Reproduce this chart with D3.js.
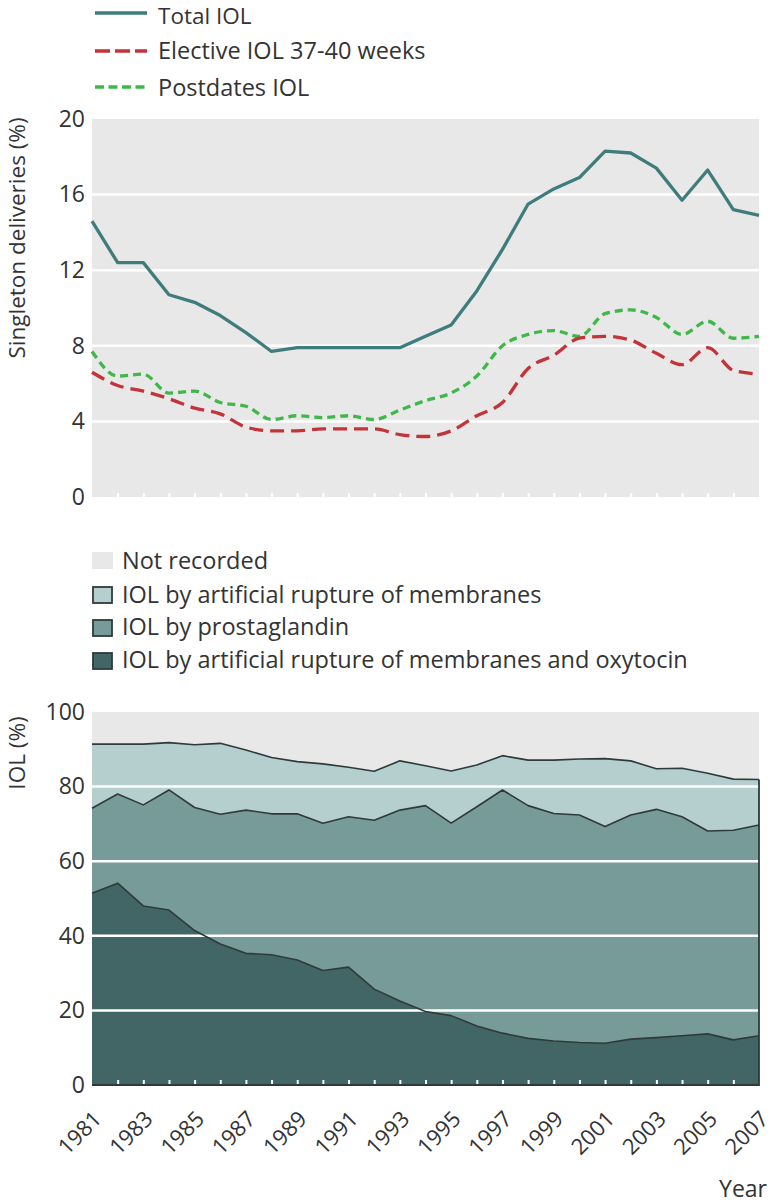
<!DOCTYPE html>
<html><head><meta charset="utf-8">
<script src="https://cdn.jsdelivr.net/npm/d3@7"></script>
<style>
body{margin:0;background:#fff}
text{font-family:"Open Sans",sans-serif;fill:#333}
</style>
</head><body>
<svg id="c" width="780" height="1204"></svg>
<script>
// ---------- data ----------
const years = [1981,1982,1983,1984,1985,1986,1987,1988,1989,1990,1991,1992,1993,1994,1995,1996,1997,1998,1999,2000,2001,2002,2003,2004,2005,2006,2007];
const yearTickLabels = [1981,1983,1985,1987,1989,1991,1993,1995,1997,1999,2001,2003,2005,2007];

const totalIOL     = [14.6,12.4,12.4,10.7,10.3,9.6,8.7,7.7,7.9,7.9,7.9,7.9,7.9,8.5,9.1,10.9,13.1,15.5,16.3,16.9,18.3,18.2,17.4,15.7,17.3,15.2,14.9];
const electiveIOL  = [6.6,5.9,5.6,5.2,4.7,4.4,3.7,3.5,3.5,3.6,3.6,3.6,3.3,3.2,3.5,4.3,5.0,6.8,7.5,8.4,8.5,8.3,7.6,7.0,7.9,6.7,6.5];
const postdatesIOL = [7.7,6.4,6.5,5.5,5.6,5.0,4.8,4.1,4.3,4.2,4.3,4.1,4.6,5.1,5.5,6.4,8.0,8.6,8.8,8.5,9.7,9.9,9.5,8.6,9.3,8.4,8.5];
const topTicks = [0,4,8,12,16,20];

const armOxytocin   = [51.4,54.1,48.0,46.9,41.4,37.8,35.3,34.9,33.5,30.7,31.6,25.7,22.5,19.7,18.6,15.8,13.9,12.5,11.8,11.4,11.2,12.3,12.7,13.2,13.7,12.1,13.2];
const prostaglandin = [22.8,23.9,27.1,32.2,33.0,34.8,38.4,37.8,39.2,39.5,40.3,45.3,51.2,55.2,51.6,58.8,65.2,62.4,61.0,61.0,58.1,60.1,61.2,58.7,54.4,56.2,56.5];
const armOnly       = [17.2,13.4,16.3,12.7,16.8,19.0,16.1,15.1,14.0,15.9,13.3,13.1,13.2,10.7,14.0,11.2,9.2,12.2,14.3,15.0,18.2,14.5,10.9,13.0,15.5,13.7,12.2];
const bottomTicks = [0,20,40,60,80,100];

const topLegend = ["Total IOL","Elective IOL 37-40 weeks","Postdates IOL"];
const bottomLegend = ["Not recorded","IOL by artificial rupture of membranes","IOL by prostaglandin","IOL by artificial rupture of membranes and oxytocin"];

// ---------- styles ----------
const C = {
  bg:"#e8e8e8", total:"#3f7c7c", elective:"#c3343a", postdates:"#3fb84a",
  notRec:"#e8e8e8", arm:"#b4cfcd", pg:"#769b99", oxy:"#426665", outline:"#2f3a3a", text:"#333"
};
const FS = 23;

const svg = d3.select("#c");
const L = 92, R = 759;
const x = d3.scaleLinear().domain([1981,2007]).range([L,R]);

// ================= TOP CHART =================
const yT = d3.scaleLinear().domain([0,20]).range([497,119]);
const gTop = svg.append("g");
gTop.append("rect").attr("x",L).attr("y",yT(20)).attr("width",R-L).attr("height",yT(0)-yT(20)).attr("fill",C.bg);
gTop.append("g").selectAll("line").data(topTicks.filter(t=>t>0&&t<20)).join("line")
  .attr("x1",L).attr("x2",R).attr("y1",d=>yT(d)).attr("y2",d=>yT(d))
  .attr("stroke","#fff").attr("stroke-width",2.5);
const tt = gTop.append("g").attr("transform",`translate(0,${yT(0)})`)
  .call(d3.axisBottom(x).tickValues(years.slice(1,-1)).tickSize(-4).tickFormat(""));
tt.select(".domain").remove();
tt.selectAll("line").attr("stroke","#fff").attr("stroke-width",2);

const ya = gTop.append("g").attr("transform",`translate(${L},0)`)
  .call(d3.axisLeft(yT).tickValues(topTicks).tickSize(0).tickPadding(7));
ya.select(".domain").remove();
ya.selectAll("text").attr("font-size",FS).attr("fill",C.text).attr("font-family","Open Sans");

const seriesTop = [
  {vals:totalIOL, color:C.total, dash:null, curve:d3.curveLinear},
  {vals:postdatesIOL, color:C.postdates, dash:"8,5", curve:d3.curveMonotoneX},
  {vals:electiveIOL, color:C.elective, dash:"14,7", curve:d3.curveMonotoneX}
];
seriesTop.forEach(s=>{
  const line = d3.line().x((d,i)=>x(years[i])).y(d=>yT(d)).curve(s.curve);
  gTop.append("path").attr("d",line(s.vals)).attr("fill","none")
    .attr("stroke",s.color).attr("stroke-width",3.3)
    .attr("stroke-dasharray",s.dash).attr("stroke-linejoin","round");
});

gTop.append("text").attr("transform",`translate(25,238) rotate(-90)`)
  .attr("text-anchor","middle").attr("font-size",22.5).text("Singleton deliveries (%)");

const tl = [{c:C.total,d:null,y:13,b:24},{c:C.elective,d:"15,5",y:51,b:59},{c:C.postdates,d:"9,4.5",y:87,b:96}];
tl.forEach((o,i)=>{
  svg.append("line").attr("x1",95).attr("x2",147).attr("y1",o.y).attr("y2",o.y)
    .attr("stroke",o.c).attr("stroke-width",3.3).attr("stroke-dasharray",o.d);
  svg.append("text").attr("x",158).attr("y",o.b).attr("font-size",i===0?22.5:FS+0.5).text(topLegend[i]);
});

// ================= BOTTOM CHART =================
const yB = d3.scaleLinear().domain([0,100]).range([1085,712]);
const gBot = svg.append("g");
gBot.append("rect").attr("x",L).attr("y",yB(100)).attr("width",R-L).attr("height",yB(0)-yB(100)).attr("fill",C.notRec);

const rows = years.map((yr,i)=>({year:yr, oxy:armOxytocin[i], pg:prostaglandin[i], arm:armOnly[i]}));
const stack = d3.stack().keys(["oxy","pg","arm"])(rows);
const fills = {oxy:C.oxy, pg:C.pg, arm:C.arm};
const area = d3.area().x(d=>x(d.data.year)).y0(d=>yB(d[0])).y1(d=>yB(d[1]));
gBot.append("g").selectAll("path").data(stack).join("path")
  .attr("d",area).attr("fill",d=>fills[d.key]);

gBot.append("g").selectAll("line").data(bottomTicks.filter(t=>t>0&&t<100)).join("line")
  .attr("x1",L).attr("x2",R).attr("y1",d=>yB(d)).attr("y2",d=>yB(d))
  .attr("stroke","#fff").attr("stroke-width",2.5);

const topLine = d3.line().x(d=>x(d.data.year)).y(d=>yB(d[1]));
gBot.append("g").selectAll("path").data(stack).join("path")
  .attr("d",topLine).attr("fill","none").attr("stroke",C.outline).attr("stroke-width",1.6).attr("stroke-linejoin","round");
const last = stack[2][stack[2].length-1];
gBot.append("path").attr("d",`M${L},${yB(0)}H${R}V${yB(last[1])}`)
  .attr("fill","none").attr("stroke",C.outline).attr("stroke-width",1.8);

const bt = gBot.append("g").attr("transform",`translate(0,${yB(0)-1})`)
  .call(d3.axisBottom(x).tickValues(years.slice(1,-1)).tickSize(-4).tickFormat(""));
bt.select(".domain").remove();
bt.selectAll("line").attr("stroke","#fff").attr("stroke-width",2);

const yba = gBot.append("g").attr("transform",`translate(${L},0)`)
  .call(d3.axisLeft(yB).tickValues(bottomTicks).tickSize(0).tickPadding(7));
yba.select(".domain").remove();
yba.selectAll("text").attr("font-size",FS).attr("fill",C.text).attr("font-family","Open Sans");

gBot.append("text").attr("transform",`translate(25,753) rotate(-90)`)
  .attr("text-anchor","middle").attr("font-size",22.5).text("IOL (%)");

const xa = gBot.append("g").attr("transform",`translate(0,${yB(0)})`)
  .call(d3.axisBottom(x).tickValues(yearTickLabels).tickSize(0).tickFormat(d3.format("d")));
xa.select(".domain").remove();
xa.selectAll("text").attr("font-size",22).attr("fill",C.text).attr("font-family","Open Sans")
  .attr("text-anchor","end").attr("y",0).attr("dy","0.35em")
  .attr("transform","translate(5,30) rotate(-45)");

gBot.append("text").attr("x",767).attr("y",1197).attr("text-anchor","end").attr("font-size",FS).text("Year");

const bl = [{f:C.notRec,s:null,y:552,b:569},{f:C.arm,s:C.outline,y:586,b:603},{f:C.pg,s:C.outline,y:619,b:635},{f:C.oxy,s:C.outline,y:652,b:668}];
bl.forEach((o,i)=>{
  svg.append("rect").attr("x",o.s?93:92).attr("y",o.y+(o.s?1:0)).attr("width",o.s?19:21).attr("height",o.s?16:17)
    .attr("fill",o.f).attr("stroke",o.s).attr("stroke-width",o.s?1.8:0);
  svg.append("text").attr("x",122).attr("y",o.b).attr("font-size",FS+0.5).text(bottomLegend[i]);
});
</script>
</body></html>
